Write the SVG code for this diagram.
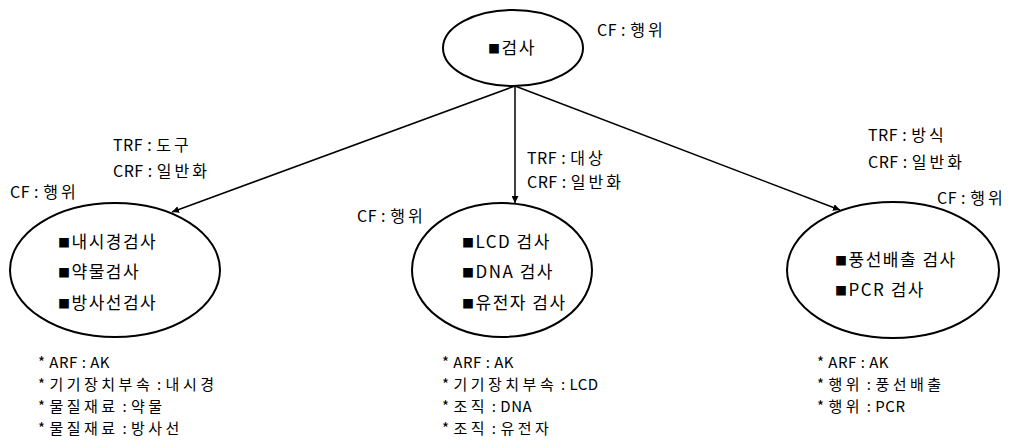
<svg xmlns="http://www.w3.org/2000/svg" width="1017" height="441" viewBox="0 0 1017 441">
<defs>
<style>
text{font-family:"Noto Sans CJK KR","Liberation Sans",sans-serif;font-size:16px;fill:#000;letter-spacing:0.5px}
.k{letter-spacing:3px}
.s{font-size:15px}
.s .k{letter-spacing:3.5px}
.e{font-size:17px;letter-spacing:1.5px}
.b{font-size:12px}
.n{fill:#fff;stroke:#000;stroke-width:2}
.c{stroke:#000;stroke-width:1.5;fill:none;marker-end:url(#ah)}
</style>
<marker id="ah" viewBox="0 0 10 10" refX="10" refY="5" markerWidth="7" markerHeight="7" orient="auto" markerUnits="userSpaceOnUse">
<path d="M0,0 L10,5 L0,10 z" fill="#000"/>
</marker>
</defs>
<rect width="1017" height="441" fill="#fff"/>
<g id="connectors">
<line class="c" x1="515" y1="86" x2="172" y2="212"/>
<line class="c" x1="515" y1="86" x2="515" y2="203"/>
<line class="c" x1="515" y1="86" x2="840" y2="210"/>
</g>
<g id="root">
<ellipse class="n" cx="513" cy="48" rx="70" ry="38"/>
<text class="e" x="488" y="54"><tspan class="b">■</tspan>검사</text>
<text x="597" y="36">CF : <tspan class="k">행위</tspan></text>
</g>
<g id="left">
<ellipse class="n" cx="115" cy="270" rx="105" ry="67"/>
<text class="e" x="58" y="248"><tspan class="b">■</tspan>내시경검사</text>
<text class="e" x="58" y="278"><tspan class="b">■</tspan>약물검사</text>
<text class="e" x="58" y="309"><tspan class="b">■</tspan>방사선검사</text>
<text x="113" y="151">TRF : <tspan class="k">도구</tspan></text>
<text x="113" y="177">CRF : <tspan class="k">일반화</tspan></text>
<text x="10" y="198">CF : <tspan class="k">행위</tspan></text>
<text class="s" x="38" y="368">* ARF : AK</text>
<text class="s" x="38" y="390">* <tspan class="k">기기장치부속</tspan> : <tspan class="k">내시경</tspan></text>
<text class="s" x="38" y="412">* <tspan class="k">물질재료</tspan> : <tspan class="k">약물</tspan></text>
<text class="s" x="38" y="434">* <tspan class="k">물질재료</tspan> : <tspan class="k">방사선</tspan></text>
</g>
<g id="middle">
<ellipse class="n" cx="502" cy="270" rx="90" ry="67"/>
<text class="e" x="462" y="248"><tspan class="b">■</tspan>LCD 검사</text>
<text class="e" x="462" y="278"><tspan class="b">■</tspan>DNA 검사</text>
<text class="e" x="462" y="309"><tspan class="b">■</tspan>유전자 검사</text>
<text x="527" y="164">TRF : <tspan class="k">대상</tspan></text>
<text x="527" y="188">CRF : <tspan class="k">일반화</tspan></text>
<text x="357" y="222">CF : <tspan class="k">행위</tspan></text>
<text class="s" x="442" y="368">* ARF : AK</text>
<text class="s" x="442" y="390">* <tspan class="k">기기장치부속</tspan> : LCD</text>
<text class="s" x="442" y="412">* <tspan class="k">조직</tspan> : DNA</text>
<text class="s" x="442" y="434">* <tspan class="k">조직</tspan> : <tspan class="k">유전자</tspan></text>
</g>
<g id="right">
<ellipse class="n" cx="893" cy="270" rx="106" ry="68"/>
<text class="e" x="835" y="266"><tspan class="b">■</tspan>풍선배출 검사</text>
<text class="e" x="835" y="296"><tspan class="b">■</tspan>PCR 검사</text>
<text x="868" y="141">TRF : <tspan class="k">방식</tspan></text>
<text x="868" y="168">CRF : <tspan class="k">일반화</tspan></text>
<text x="937" y="204">CF : <tspan class="k">행위</tspan></text>
<text class="s" x="817" y="368">* ARF : AK</text>
<text class="s" x="817" y="390">* <tspan class="k">행위</tspan> : <tspan class="k">풍선배출</tspan></text>
<text class="s" x="817" y="412">* <tspan class="k">행위</tspan> : PCR</text>
</g>
</svg>
